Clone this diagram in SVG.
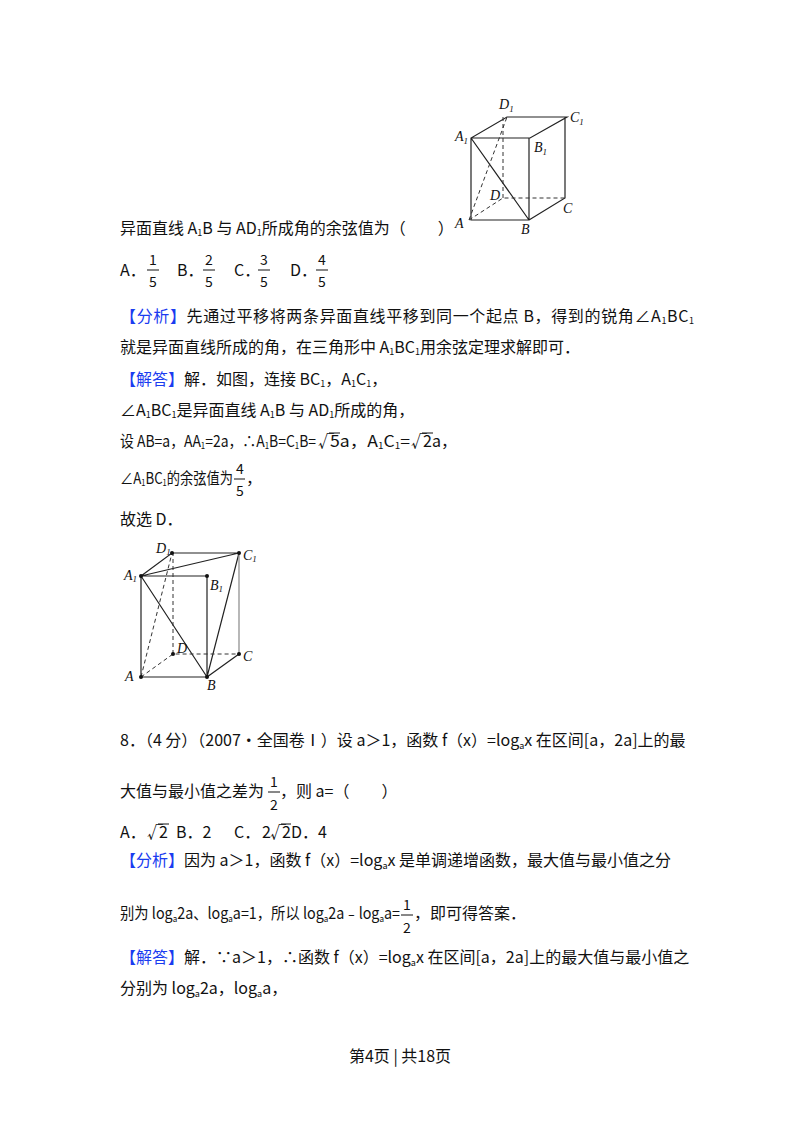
<svg xmlns="http://www.w3.org/2000/svg" width="800" height="1132" viewBox="0 0 800 1132">
<style>
text{font-family:"Noto Sans CJK SC","Liberation Sans",sans-serif;font-size:16px;fill:#111}
.b{fill:#1a3cf0}
.s{font-size:9px}
.lab{font-family:"Liberation Serif",serif;font-style:italic;font-size:14px}
.sl{stroke:#222;stroke-width:1.2;fill:none}
.dl{stroke:#333;stroke-width:1;fill:none;stroke-dasharray:4 3}
.fl{stroke:#111;stroke-width:1}
.ft{font-size:14px}
</style>
<rect width="800" height="1132" fill="#fff"/>
<g id="cube1">
<g class="sl"><path d="M471 138H530L567 117H507L471 138V220H529V138M529 220L565 198V117M471 138L529 220"/></g>
<g class="dl"><path d="M469 220L503 198H565M503 198V117M469 220L507 117"/></g>
<text class="lab" x="499" y="109">D<tspan class="s" dy="3">1</tspan></text>
<text class="lab" x="570" y="122">C<tspan class="s" dy="3">1</tspan></text>
<text class="lab" x="455" y="141">A<tspan class="s" dy="3">1</tspan></text>
<text class="lab" x="534" y="152">B<tspan class="s" dy="3">1</tspan></text>
<text class="lab" x="490" y="200">D</text>
<text class="lab" x="563" y="213">C</text>
<text class="lab" x="455" y="228">A</text>
<text class="lab" x="521" y="234">B</text>
</g>
<g id="text1">
<text x="120" y="234">异面直线 A<tspan class="s" dy="2">1</tspan><tspan dy="-2">B 与 AD</tspan><tspan class="s" dy="2">1</tspan><tspan dy="-2">所成角的余弦值为（　　）</tspan></text>
<text x="120" y="276">A．</text><text x="149" y="265" class="ft">1</text><line class="fl" x1="147" y1="270" x2="159" y2="270"/><text x="149" y="287" class="ft">5</text>
<text x="177" y="276">B．</text><text x="205" y="265" class="ft">2</text><line class="fl" x1="203" y1="270" x2="215" y2="270"/><text x="205" y="287" class="ft">5</text>
<text x="234" y="276">C．</text><text x="260" y="265" class="ft">3</text><line class="fl" x1="258" y1="270" x2="270" y2="270"/><text x="260" y="287" class="ft">5</text>
<text x="290" y="276">D．</text><text x="318" y="265" class="ft">4</text><line class="fl" x1="316" y1="270" x2="328" y2="270"/><text x="318" y="287" class="ft">5</text>
<text x="120" y="322" textLength="574" lengthAdjust="spacing"><tspan class="b">【分析】</tspan>先通过平移将两条异面直线平移到同一个起点 B，得到的锐角∠A<tspan class="s" dy="2">1</tspan><tspan dy="-2">BC</tspan><tspan class="s" dy="2">1</tspan></text>
<text x="120" y="353">就是异面直线所成的角，在三角形中 A<tspan class="s" dy="2">1</tspan><tspan dy="-2">BC</tspan><tspan class="s" dy="2">1</tspan><tspan dy="-2">用余弦定理求解即可．</tspan></text>
<text x="120" y="385"><tspan class="b">【解答】</tspan>解．如图，连接 BC<tspan class="s" dy="2">1</tspan><tspan dy="-2">，A</tspan><tspan class="s" dy="2">1</tspan><tspan dy="-2">C</tspan><tspan class="s" dy="2">1</tspan><tspan dy="-2">，</tspan></text>
<text x="120" y="416">∠A<tspan class="s" dy="2">1</tspan><tspan dy="-2">BC</tspan><tspan class="s" dy="2">1</tspan><tspan dy="-2">是异面直线 A</tspan><tspan class="s" dy="2">1</tspan><tspan dy="-2">B 与 AD</tspan><tspan class="s" dy="2">1</tspan><tspan dy="-2">所成的角，</tspan></text>
<text x="120" y="447" textLength="196" lengthAdjust="spacingAndGlyphs">设 AB=a，AA<tspan class="s" dy="2">1</tspan><tspan dy="-2">=2a，∴A</tspan><tspan class="s" dy="2">1</tspan><tspan dy="-2">B=C</tspan><tspan class="s" dy="2">1</tspan><tspan dy="-2">B=</tspan></text>
<text x="318" y="447">√</text><line class="fl" x1="329" y1="433" x2="340" y2="433"/><text x="330" y="447" textLength="80" lengthAdjust="spacingAndGlyphs">5a，A<tspan class="s" dy="2">1</tspan><tspan dy="-2">C</tspan><tspan class="s" dy="2">1</tspan><tspan dy="-2">=</tspan></text>
<text x="411" y="447">√</text><line class="fl" x1="422" y1="433" x2="433" y2="433"/><text x="423" y="447">2a，</text>
<text x="120" y="484" textLength="113" lengthAdjust="spacingAndGlyphs">∠A<tspan class="s" dy="2">1</tspan><tspan dy="-2">BC</tspan><tspan class="s" dy="2">1</tspan><tspan dy="-2">的余弦值为</tspan></text>
<text x="236" y="474" class="ft">4</text><line class="fl" x1="234" y1="479" x2="245" y2="479"/><text x="236" y="496" class="ft">5</text><text x="246" y="484">，</text>
<text x="120" y="525">故选 D．</text>
</g>
<g id="cube2">
<g class="sl"><path d="M141 576H207V677H141ZM141 576L172 553H239L141 576M239 553L207 677L239 654M141 576L207 677"/><path d="M239 553V654" stroke="#888"/></g>
<g class="dl"><path d="M141 677L173 654H239M173 654V553M141 677L172 553"/></g>
<g fill="#111"><circle cx="141" cy="576" r="2"/><circle cx="207" cy="576" r="2"/><circle cx="172" cy="553" r="2"/><circle cx="239" cy="553" r="2"/><circle cx="173" cy="654" r="2"/><circle cx="239" cy="654" r="2"/><circle cx="141" cy="677" r="2"/><circle cx="207" cy="677" r="2"/></g>
<text class="lab" x="156" y="553" font-size="12">D<tspan class="s" dy="2">1</tspan></text>
<text class="lab" x="243" y="560" font-size="12">C<tspan class="s" dy="2">1</tspan></text>
<text class="lab" x="124" y="580" font-size="12">A<tspan class="s" dy="2">1</tspan></text>
<text class="lab" x="210" y="590" font-size="12">B<tspan class="s" dy="2">1</tspan></text>
<text class="lab" x="177" y="653" font-size="12">D</text>
<text class="lab" x="243" y="661" font-size="12">C</text>
<text class="lab" x="125" y="681" font-size="12">A</text>
<text class="lab" x="207" y="690" font-size="12">B</text>
</g>
<g id="text2">
<text x="120" y="746">8．（4 分）（2007•全国卷Ⅰ）设 a＞1，函数 f（x）=log<tspan class="s" dy="3">a</tspan><tspan dy="-3">x 在区间[a，2a]上的最</tspan></text>
<text x="120" y="797">大值与最小值之差为</text>
<text x="270" y="787" class="ft">1</text><line class="fl" x1="268" y1="792" x2="280" y2="792"/><text x="270" y="810" class="ft">2</text>
<text x="280" y="797">，则 a=（　　）</text>
<text x="120" y="838">A．</text><text x="147" y="838">√</text><line class="fl" x1="158" y1="824" x2="169" y2="824"/><text x="159" y="838">2</text>
<text x="176" y="838">B．2</text>
<text x="234" y="838">C．</text><text x="262" y="838">2</text><text x="270" y="838">√</text><line class="fl" x1="281" y1="824" x2="291" y2="824"/><text x="282" y="838">2D．4</text>
<text x="120" y="866"><tspan class="b">【分析】</tspan>因为 a＞1，函数 f（x）=log<tspan class="s" dy="3">a</tspan><tspan dy="-3">x 是单调递增函数，最大值与最小值之分</tspan></text>
<text x="120" y="919" textLength="280" lengthAdjust="spacingAndGlyphs">别为 log<tspan class="s" dy="3">a</tspan><tspan dy="-3">2a、log</tspan><tspan class="s" dy="3">a</tspan><tspan dy="-3">a=1，所以 log</tspan><tspan class="s" dy="3">a</tspan><tspan dy="-3">2a﹣log</tspan><tspan class="s" dy="3">a</tspan><tspan dy="-3">a=</tspan></text>
<text x="403" y="910" class="ft">1</text><line class="fl" x1="401" y1="915" x2="413" y2="915"/><text x="403" y="933" class="ft">2</text>
<text x="414" y="919">，即可得答案．</text>
<text x="120" y="963"><tspan class="b">【解答】</tspan>解．∵a＞1，∴函数 f（x）=log<tspan class="s" dy="3">a</tspan><tspan dy="-3">x 在区间[a，2a]上的最大值与最小值之</tspan></text>
<text x="120" y="994">分别为 log<tspan class="s" dy="3">a</tspan><tspan dy="-3">2a，log</tspan><tspan class="s" dy="3">a</tspan><tspan dy="-3">a，</tspan></text>
</g>
<text x="400" y="1062" text-anchor="middle" font-size="13">第4页 | 共18页</text>
</svg>
